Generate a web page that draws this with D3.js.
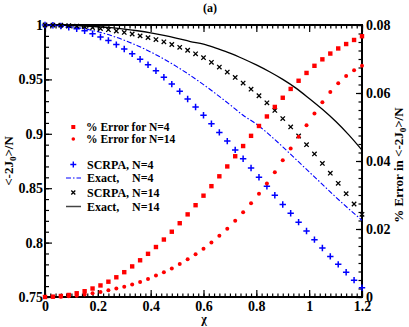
<!DOCTYPE html>
<html>
<head>
<meta charset="utf-8">
<script src="https://cdn.jsdelivr.net/npm/d3@7"></script>
<style>
  body { margin: 0; background: #fff; }
</style>
</head>
<body>
<div id="chart-area"></div>
<script>
// x grid for the marker series (every 0.03)
const chiPts = [0, 0.03, 0.06, 0.09, 0.12, 0.15, 0.18, 0.21, 0.24, 0.27, 0.30, 0.33, 0.36, 0.39,
  0.42, 0.45, 0.48, 0.51, 0.54, 0.57, 0.60, 0.63, 0.66, 0.69, 0.72, 0.75, 0.78, 0.81, 0.84,
  0.87, 0.90, 0.93, 0.96, 0.99, 1.02, 1.05, 1.08, 1.11, 1.14, 1.17, 1.20];
// x grid for the exact curves
const chiLine = [0, 0.05, 0.1, 0.15, 0.2, 0.25, 0.3, 0.35, 0.4, 0.45, 0.5, 0.55, 0.6, 0.65, 0.7,
  0.75, 0.8, 0.85, 0.9, 0.95, 1.0, 1.05, 1.1, 1.15, 1.2];

// <-2J0>/N, left axis
const scrpaN4 = [1.0, 0.9998, 0.9991, 0.998, 0.9965, 0.9947, 0.992, 0.989, 0.9858, 0.982, 0.978,
  0.9735, 0.9685, 0.9635, 0.958, 0.952, 0.9457, 0.939, 0.932, 0.9247, 0.917, 0.9093, 0.9013,
  0.8933, 0.8852, 0.877, 0.8685, 0.86, 0.8518, 0.8435, 0.835, 0.827, 0.8188, 0.8107, 0.8027,
  0.795, 0.7873, 0.78, 0.7727, 0.7655, 0.7585];
const scrpaN14 = [1.0, 0.99995, 0.9998, 0.9995, 0.999, 0.9984, 0.9976, 0.9967, 0.9957, 0.9945,
  0.9932, 0.9917, 0.990, 0.9884, 0.9866, 0.9845, 0.9821, 0.9795, 0.9768, 0.9735, 0.970, 0.9657,
  0.9613, 0.9567, 0.9518, 0.9466, 0.941, 0.935, 0.9285, 0.9215, 0.914, 0.9063, 0.898, 0.890,
  0.8815, 0.8728, 0.8638, 0.8545, 0.845, 0.8355, 0.826];
const exactN4 = [1.0, 0.9996, 0.9985, 0.9965, 0.9938, 0.9903, 0.986, 0.981, 0.9752, 0.9687,
  0.9615, 0.9537, 0.9452, 0.9362, 0.9268, 0.917, 0.909, 0.899, 0.888, 0.8765, 0.865, 0.8535,
  0.842, 0.831, 0.8205];
const exactN14 = [1.0, 0.9999, 0.9996, 0.9991, 0.9984, 0.9975, 0.9963, 0.9947, 0.9928, 0.9905,
  0.9878, 0.9848, 0.9825, 0.9785, 0.9742, 0.969, 0.9633, 0.957, 0.950, 0.942, 0.9325, 0.9225,
  0.9115, 0.899, 0.885];

// % error, right axis
const errN4 = [0, 0.0001, 0.0003, 0.0006, 0.0011, 0.0017, 0.0025, 0.0034, 0.0045, 0.0058, 0.0073,
  0.009, 0.0108, 0.0127, 0.0147, 0.0169, 0.0192, 0.0217, 0.0243, 0.027, 0.0298, 0.0326, 0.0355,
  0.0384, 0.0414, 0.0444, 0.0474, 0.0503, 0.0531, 0.0559, 0.0586, 0.0612, 0.0636, 0.0659, 0.068,
  0.0699, 0.0716, 0.0731, 0.0744, 0.0756, 0.0767];
const errN14 = [0, 0.00005, 0.0001, 0.0002, 0.0004, 0.0007, 0.0011, 0.0015, 0.002, 0.0025, 0.003,
  0.0037, 0.0044, 0.0053, 0.0063, 0.0073, 0.0084, 0.0097, 0.0111, 0.0126, 0.0142, 0.016, 0.018,
  0.0201, 0.0224, 0.0249, 0.0276, 0.0304, 0.0334, 0.0367, 0.0402, 0.0437, 0.0471, 0.0505, 0.054,
  0.0573, 0.0603, 0.0629, 0.065, 0.0667, 0.068];

// ticks
const xMajor = [0, 0.2, 0.4, 0.6, 0.8, 1, 1.2];
const yLeftMajor = [0.75, 0.8, 0.85, 0.9, 0.95, 1];
const yRightMajor = [0, 0.02, 0.04, 0.06, 0.08];
const xMinor = d3.range(0, 1.2001, 0.02);
const yLeftMinor = d3.range(0.75, 1.0001, 0.01);
const yRightMinor = d3.range(0, 0.08001, 0.0025);

const width = 409;
const height = 327;
const plot = { left: 45, right: 362, top: 25, bottom: 297 };
const serif = 'Liberation Serif';

const svg = d3.select('#chart-area')
  .append('svg')
  .attr('width', width)
  .attr('height', height)
  .attr('font-family', serif)
  .attr('font-weight', 'bold');

const xScale = d3.scaleLinear().domain([0, 1.2]).range([plot.left, plot.right]);
const yLeft = d3.scaleLinear().domain([0.75, 1]).range([plot.bottom, plot.top]);
const yRight = d3.scaleLinear().domain([0, 0.08]).range([plot.bottom, plot.top]);

// Axes (ticks point inward)
const styleAxis = g => {
  g.attr('font-family', serif);
  g.select('.domain').remove();
  g.selectAll('line').attr('stroke', '#000').attr('stroke-width', 1.2);
  g.selectAll('text').attr('font-size', '14px').attr('font-family', serif).attr('fill', '#000');
};

svg.append('g').attr('transform', `translate(0,${plot.bottom})`)
  .call(d3.axisBottom(xScale).tickValues(xMinor).tickSize(-3.5).tickFormat(''))
  .call(styleAxis);
svg.append('g').attr('transform', `translate(0,${plot.bottom})`)
  .call(d3.axisBottom(xScale).tickValues(xMajor).tickSize(-7).tickPadding(4)
    .tickFormat(d => (d === 0 || d === 1 ? String(d) : d3.format('.1f')(d))))
  .call(styleAxis);
svg.append('g').attr('transform', `translate(0,${plot.top})`)
  .call(d3.axisTop(xScale).tickValues(xMinor).tickSize(-3.5).tickFormat(''))
  .call(styleAxis);
svg.append('g').attr('transform', `translate(0,${plot.top})`)
  .call(d3.axisTop(xScale).tickValues(xMajor).tickSize(-7).tickFormat(''))
  .call(styleAxis);

svg.append('g').attr('transform', `translate(${plot.left},0)`)
  .call(d3.axisLeft(yLeft).tickValues(yLeftMinor).tickSize(-4).tickFormat(''))
  .call(styleAxis);
svg.append('g').attr('transform', `translate(${plot.left},0)`)
  .call(d3.axisLeft(yLeft).tickValues(yLeftMajor).tickSize(-7).tickPadding(2)
    .tickFormat(d => (d === 1 ? '1' : d3.format('.2~f')(d))))
  .call(styleAxis);

svg.append('g').attr('transform', `translate(${plot.right},0)`)
  .call(d3.axisRight(yRight).tickValues(yRightMinor).tickSize(-3.5).tickFormat(''))
  .call(styleAxis);
svg.append('g').attr('transform', `translate(${plot.right},0)`)
  .call(d3.axisRight(yRight).tickValues(yRightMajor).tickSize(-6).tickPadding(4)
    .tickFormat(d => (d === 0 ? '0' : d3.format('.2f')(d))))
  .call(styleAxis);

// frame
svg.append('rect')
  .attr('x', plot.left)
  .attr('y', plot.top)
  .attr('width', plot.right - plot.left)
  .attr('height', plot.bottom - plot.top)
  .attr('fill', 'none')
  .attr('stroke', '#000')
  .attr('stroke-width', 2);

// Exact curves
const lineL = d3.line().x((d, i) => xScale(chiLine[i])).y(d => yLeft(d)).curve(d3.curveMonotoneX);

svg.append('path')
  .attr('d', lineL(exactN4))
  .attr('fill', 'none')
  .attr('stroke', '#0000ff')
  .attr('stroke-width', 1.1)
  .attr('stroke-dasharray', '5,2,1.5,2');

svg.append('path')
  .attr('d', lineL(exactN14))
  .attr('fill', 'none')
  .attr('stroke', '#000')
  .attr('stroke-width', 1.3);

// marker shapes
const plusPath = s => `M${-s},0H${s}M0,${-s}V${s}`;
const crossPath = s => `M${-s},${-s}L${s},${s}M${-s},${s}L${s},${-s}`;

// SCRPA N=4
svg.append('g').selectAll('path')
  .data(scrpaN4)
  .enter()
  .append('path')
  .attr('transform', (d, i) => `translate(${xScale(chiPts[i])},${yLeft(d)})`)
  .attr('d', plusPath(3.2))
  .attr('stroke', '#0000ff')
  .attr('stroke-width', 1.5);

// SCRPA N=14
svg.append('g').selectAll('path')
  .data(scrpaN14)
  .enter()
  .append('path')
  .attr('transform', (d, i) => `translate(${xScale(chiPts[i])},${yLeft(d)})`)
  .attr('d', crossPath(2.2))
  .attr('stroke', '#000')
  .attr('stroke-width', 1.3);

// % error N=4 (squares)
svg.append('g').selectAll('rect')
  .data(errN4)
  .enter()
  .append('rect')
  .attr('x', (d, i) => xScale(chiPts[i]) - 2.2)
  .attr('y', d => yRight(d) - 2.2)
  .attr('width', 4.4)
  .attr('height', 4.4)
  .attr('fill', '#ff0000');

// % error N=14 (dots)
svg.append('g').selectAll('circle')
  .data(errN14)
  .enter()
  .append('circle')
  .attr('cx', (d, i) => xScale(chiPts[i]))
  .attr('cy', d => yRight(d))
  .attr('r', 2)
  .attr('fill', '#ff0000');

// Legend
const legendTop = [
  { label: '% Error for N=4', y: 127, mark: 'square' },
  { label: '% Error for N=14', y: 139, mark: 'dot' }
];
const legendBottom = [
  { a: 'SCRPA,', n: 'N=4', y: 164.5, mark: 'plus' },
  { a: 'Exact,', n: 'N=4', y: 178, mark: 'dashdot' },
  { a: 'SCRPA,', n: 'N=14', y: 192.5, mark: 'cross' },
  { a: 'Exact,', n: 'N=14', y: 206.5, mark: 'solid' }
];

const drawMark = (g, mark) => {
  if (mark === 'square') {
    g.append('rect').attr('x', 71.3).attr('y', -2).attr('width', 4).attr('height', 4).attr('fill', '#ff0000');
  } else if (mark === 'dot') {
    g.append('circle').attr('cx', 73.3).attr('cy', 0).attr('r', 1.8).attr('fill', '#ff0000');
  } else if (mark === 'plus') {
    g.append('path').attr('transform', 'translate(73.3,0)').attr('d', plusPath(3)).attr('stroke', '#0000ff').attr('stroke-width', 1.4);
  } else if (mark === 'cross') {
    g.append('path').attr('transform', 'translate(73.3,0)').attr('d', crossPath(2)).attr('stroke', '#000').attr('stroke-width', 1.3);
  } else if (mark === 'dashdot') {
    g.append('line').attr('x1', 66).attr('x2', 81).attr('stroke', '#0000ff').attr('stroke-width', 1.2)
      .attr('stroke-dasharray', '5,2,1.5,2');
  } else {
    g.append('line').attr('x1', 66).attr('x2', 81).attr('stroke', '#444').attr('stroke-width', 1.5);
  }
};

legendTop.forEach(d => {
  const g = svg.append('g').attr('transform', `translate(0,${d.y})`);
  drawMark(g, d.mark);
  g.append('text').attr('x', 86).attr('y', 4).attr('font-size', '11.5px').text(d.label);
});

legendBottom.forEach(d => {
  const g = svg.append('g').attr('transform', `translate(0,${d.y})`);
  drawMark(g, d.mark);
  if (d.a === 'SCRPA,') {
    g.append('text').attr('x', 87).attr('y', 4.3).attr('font-size', '12px').text(`${d.a} ${d.n}`);
  } else {
    g.append('text').attr('x', 87).attr('y', 4.3).attr('font-size', '12px').text(d.a);
    g.append('text').attr('x', 132).attr('y', 4.3).attr('font-size', '12px').text(d.n);
  }
});

// Title
svg.append('text')
  .attr('x', 210)
  .attr('y', 12)
  .attr('text-anchor', 'middle')
  .attr('font-size', '12px')
  .text('(a)');

// X label
svg.append('text')
  .attr('x', 204)
  .attr('y', 323)
  .attr('text-anchor', 'middle')
  .attr('font-size', '12px')
  .text('χ');

// Y labels
const yLabelLeft = svg.append('text')
  .attr('transform', 'translate(13,161) rotate(-90)')
  .attr('text-anchor', 'middle')
  .attr('font-size', '13px');
yLabelLeft.append('tspan').text('<-2J');
yLabelLeft.append('tspan').attr('dy', 3).attr('font-size', '9px').text('0');
yLabelLeft.append('tspan').attr('dy', -3).text('>/N');

const yLabelRight = svg.append('text')
  .attr('transform', 'translate(403,165) rotate(-90)')
  .attr('text-anchor', 'middle')
  .attr('font-size', '13px');
yLabelRight.append('tspan').text('% Error in <-2J');
yLabelRight.append('tspan').attr('dy', 3).attr('font-size', '9px').text('0');
yLabelRight.append('tspan').attr('dy', -3).text('>/N');
</script>
</body>
</html>
